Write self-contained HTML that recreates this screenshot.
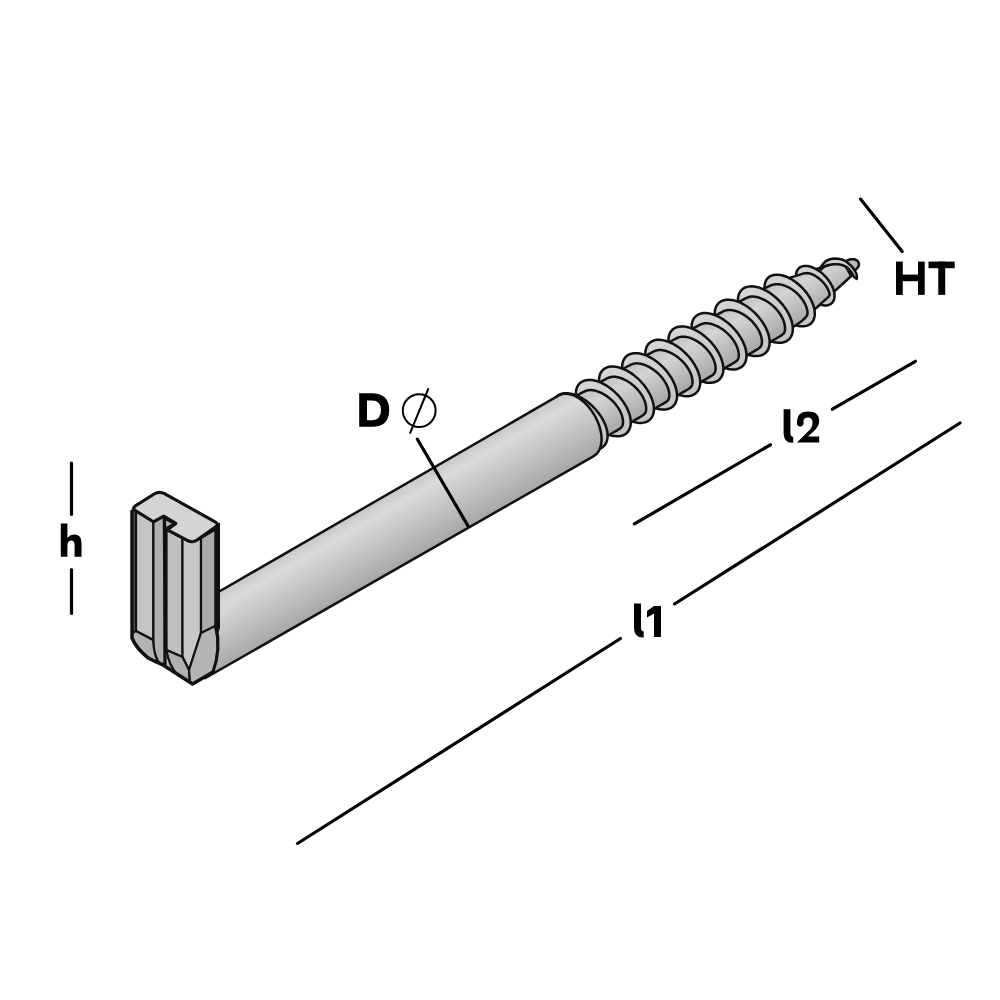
<!DOCTYPE html>
<html><head><meta charset="utf-8"><style>html,body{margin:0;padding:0;background:#fff;width:1000px;height:1000px;overflow:hidden}svg{display:block}</style></head>
<body><svg width="1000" height="1000" viewBox="0 0 1000 1000"><defs>
<linearGradient id="gshaft" x1="0" y1="-34" x2="0" y2="34" gradientUnits="userSpaceOnUse">
<stop offset="0" stop-color="#c8c8c8"/><stop offset="0.2" stop-color="#dadada"/><stop offset="0.5" stop-color="#c8c8c8"/><stop offset="1" stop-color="#a8a8a8"/>
</linearGradient>
<linearGradient id="gflange" x1="0" y1="-34" x2="0" y2="34" gradientUnits="userSpaceOnUse">
<stop offset="0" stop-color="#d6d6d6"/><stop offset="1" stop-color="#c4c4c4"/>
</linearGradient>
<linearGradient id="gcore" x1="0" y1="-26" x2="0" y2="26" gradientUnits="userSpaceOnUse">
<stop offset="0" stop-color="#c0c0c0"/><stop offset="0.3" stop-color="#d4d4d4"/><stop offset="1" stop-color="#a6a6a6"/>
</linearGradient>
</defs><rect width="1000" height="1000" fill="#fff"/><g transform="translate(400,526.4) rotate(-30)"><path d="M 517.83,-6.91 521.18,-6.71 524.18,-5.9 527.21,-4.15 529.01,-1.27 528.96,1.82 527.02,4.17 523.36,5.52 516.41,5.55 511.72,1.68 Z" fill="#bdbdbd" stroke="#111" stroke-width="2.5" stroke-linejoin="round"/><path d="M 472,-18.46 L 516,-8.78 L 516,8.78 L 472,18.46 Z" fill="url(#gcore)" stroke="#111" stroke-width="2.5" stroke-linejoin="round"/><path d="M 493.38,-13.75 497.53,-15.75 501.63,-16.84 505.99,-16.4 509.76,-14.92 513.17,-12.83 516.28,-10.23 518.18,-7.52 519.53,-4.66 520.74,-0.96 521.58,2.99 521.74,6.32 521.55,9.44 520.72,12.08 519.3,14.15 518.67,12.63 517.88,11.01 518.08,7.67 517.9,4.56 517.21,1.16 516.15,-1.99 513.48,-5.38 510.42,-8.07 506.04,-10.49 501.71,-12.18 497.14,-13.08 493.05,-11.98 Z" fill="#d0d0d0" stroke="#111" stroke-width="2.5" stroke-linejoin="round"/><polygon points="493.31,-3.99 493.74,-1.95 494.08,0.11 494.3,2.15 494.42,4.18 494.43,6.17 494.32,8.1 494.11,9.97 493.79,11.75 493.37,13.44 492.84,15.02 492.22,16.48 491.51,17.81 490.7,19 489.82,20.04 488.86,20.91 487.83,21.63 486.74,22.17 485.6,22.54 484.42,22.73 483.21,22.74 481.97,22.57 480.71,22.22 479.45,21.7 478.2,21.01 476.96,20.15 475.74,19.13 474.55,17.96 473.41,16.65 472.31,15.2 471.28,13.63 470.31,11.96 469.41,10.18 468.6,8.33 467.87,6.4 467.23,4.42 466.69,2.39 466.26,0.35 465.92,-1.71 465.7,-3.75 465.58,-5.78 465.57,-7.77 465.68,-9.7 465.89,-11.57 466.21,-13.35 466.63,-15.04 467.16,-16.62 467.78,-18.08 468.49,-19.41 469.3,-20.6 470.18,-21.64 471.14,-22.51 472.17,-23.23 473.26,-23.77 474.4,-24.14 475.58,-24.33 476.79,-24.34 478.03,-24.17 479.29,-23.82 480.55,-23.3 481.8,-22.61 483.04,-21.75 484.26,-20.73 485.45,-19.56 486.59,-18.25 487.69,-16.8 488.72,-15.23 489.69,-13.56 490.59,-11.78 491.4,-9.93 492.13,-8 492.77,-6.02 493.31,-3.99" fill="url(#gflange)" stroke="#111" stroke-width="2.5" stroke-linejoin="round"/><path d="M 445,-24.4 L 470.78,-18.39 471.53,-18.25 472.28,-18.1 473.04,-17.94 473.8,-17.76 474.56,-17.57 475.33,-17.36 476.09,-17.13 476.85,-16.88 477.6,-16.59 478.34,-16.26 479.08,-15.87 479.8,-15.41 480.51,-14.88 481.2,-14.26 481.87,-13.57 482.52,-12.81 483.15,-12 483.76,-11.13 484.34,-10.22 484.9,-9.28 485.43,-8.3 485.93,-7.3 486.39,-6.27 486.83,-5.22 487.23,-4.15 487.6,-3.07 487.6,-3.07 487.93,-1.98 488.22,-0.88 488.48,0.23 488.7,1.33 488.88,2.44 489.02,3.55 489.12,4.64 489.18,5.73 489.21,6.8 489.19,7.86 489.13,8.9 489.03,9.9 488.89,10.87 488.72,11.78 488.5,12.62 488.25,13.34 487.96,13.93 487.63,14.38 487.27,14.71 486.87,14.95 486.44,15.13 485.97,15.29 485.48,15.43 484.95,15.57 484.4,15.7 483.82,15.84 483.22,15.97 482.59,16.12 481.94,16.26 481.26,16.41 480.57,16.56 479.87,16.72 479.15,16.87 478.42,17.03 L 445,24.4 Z" fill="url(#gcore)" stroke="#111" stroke-width="2.5" stroke-linejoin="round"/><polygon points="467.75,-4.97 468.32,-2.3 468.76,0.38 469.05,3.05 469.21,5.69 469.22,8.29 469.08,10.81 468.81,13.24 468.39,15.57 467.84,17.77 467.15,19.84 466.34,21.74 465.4,23.47 464.36,25.02 463.2,26.37 461.95,27.52 460.61,28.45 459.19,29.16 457.71,29.64 456.17,29.88 454.58,29.9 452.97,29.68 451.33,29.22 449.69,28.54 448.05,27.64 446.43,26.52 444.84,25.19 443.3,23.67 441.8,21.95 440.38,20.07 439.02,18.03 437.76,15.84 436.59,13.52 435.53,11.1 434.58,8.59 433.75,6 433.05,3.37 432.48,0.7 432.04,-1.98 431.75,-4.65 431.59,-7.29 431.58,-9.89 431.72,-12.41 431.99,-14.84 432.41,-17.17 432.96,-19.37 433.65,-21.44 434.46,-23.34 435.4,-25.07 436.44,-26.62 437.6,-27.97 438.85,-29.12 440.19,-30.05 441.61,-30.76 443.09,-31.24 444.63,-31.48 446.22,-31.5 447.83,-31.28 449.47,-30.82 451.11,-30.14 452.75,-29.24 454.37,-28.12 455.96,-26.79 457.5,-25.27 459,-23.55 460.42,-21.67 461.78,-19.63 463.04,-17.44 464.21,-15.12 465.27,-12.7 466.22,-10.19 467.05,-7.6 467.75,-4.97" fill="url(#gflange)" stroke="#111" stroke-width="2.5" stroke-linejoin="round"/><path d="M 416.94,-25.5 L 440.54,-23.41 441.4,-23.33 442.28,-23.2 443.17,-23.01 444.06,-22.77 444.96,-22.48 445.85,-22.13 446.74,-21.73 447.63,-21.26 448.51,-20.73 449.38,-20.13 450.24,-19.47 451.08,-18.74 451.91,-17.95 452.72,-17.11 453.5,-16.21 454.27,-15.26 455.01,-14.27 455.72,-13.23 456.4,-12.16 457.05,-11.04 457.67,-9.9 458.25,-8.72 458.8,-7.52 459.3,-6.29 459.77,-5.04 460.2,-3.78 460.2,-3.78 460.59,-2.5 460.93,-1.22 461.23,0.08 461.49,1.37 461.7,2.67 461.87,3.96 461.99,5.24 462.06,6.52 462.08,7.77 462.06,9.01 462,10.23 461.88,11.42 461.72,12.58 461.51,13.72 461.26,14.81 460.97,15.86 460.63,16.86 460.24,17.79 459.82,18.64 459.35,19.4 458.85,20.03 458.3,20.55 457.73,20.96 457.11,21.29 456.46,21.56 455.79,21.79 455.08,22 454.34,22.19 453.58,22.38 452.8,22.56 451.99,22.75 451.16,22.92 450.32,23.1 449.46,23.27 L 416.94,25.5 Z" fill="url(#gcore)" stroke="#111" stroke-width="2.5" stroke-linejoin="round"/><polygon points="441.3,-5.35 441.92,-2.44 442.4,0.49 442.72,3.41 442.89,6.3 442.9,9.13 442.75,11.89 442.45,14.55 442,17.09 441.39,19.5 440.64,21.75 439.76,23.83 438.73,25.72 437.59,27.42 436.33,28.89 434.96,30.14 433.5,31.16 431.95,31.93 430.32,32.46 428.64,32.73 426.91,32.74 425.14,32.5 423.36,32.01 421.56,31.26 419.77,30.28 418,29.05 416.27,27.6 414.58,25.93 412.95,24.06 411.39,22 409.91,19.77 408.53,17.38 407.25,14.85 406.09,12.2 405.05,9.46 404.15,6.63 403.38,3.75 402.76,0.84 402.28,-2.09 401.96,-5.01 401.79,-7.9 401.78,-10.73 401.93,-13.49 402.23,-16.15 402.68,-18.69 403.29,-21.1 404.04,-23.35 404.92,-25.43 405.95,-27.32 407.09,-29.02 408.35,-30.49 409.72,-31.74 411.18,-32.76 412.73,-33.53 414.36,-34.06 416.04,-34.33 417.77,-34.34 419.54,-34.1 421.32,-33.61 423.12,-32.86 424.91,-31.88 426.68,-30.65 428.41,-29.2 430.1,-27.53 431.73,-25.66 433.29,-23.6 434.77,-21.37 436.15,-18.98 437.43,-16.45 438.59,-13.8 439.63,-11.06 440.53,-8.23 441.3,-5.35" fill="url(#gflange)" stroke="#111" stroke-width="2.5" stroke-linejoin="round"/><path d="M 390.21,-25.5 L 412.12,-24.74 413.06,-24.72 414.01,-24.66 414.96,-24.55 415.93,-24.4 416.89,-24.18 417.86,-23.89 418.82,-23.52 419.78,-23.05 420.73,-22.5 421.67,-21.86 422.6,-21.14 423.51,-20.35 424.4,-19.5 425.28,-18.58 426.13,-17.61 426.95,-16.58 427.75,-15.51 428.52,-14.39 429.26,-13.22 429.96,-12.02 430.62,-10.78 431.25,-9.51 431.84,-8.21 432.39,-6.89 432.9,-5.54 433.36,-4.17 433.36,-4.17 433.78,-2.79 434.15,-1.4 434.48,-0 434.76,1.4 434.98,2.8 435.16,4.19 435.29,5.58 435.37,6.95 435.4,8.31 435.37,9.65 435.3,10.96 435.18,12.25 435,13.51 434.78,14.73 434.51,15.92 434.19,17.06 433.82,18.16 433.41,19.22 432.95,20.21 432.45,21.15 431.9,22.01 431.31,22.79 430.69,23.46 430.03,24.01 429.33,24.44 428.59,24.75 427.83,24.96 427.03,25.11 426.21,25.2 425.36,25.26 424.49,25.3 423.6,25.33 422.69,25.34 421.76,25.34 L 390.21,25.5 Z" fill="url(#gcore)" stroke="#111" stroke-width="2.5" stroke-linejoin="round"/><polygon points="414.57,-5.35 415.19,-2.44 415.67,0.49 415.99,3.41 416.16,6.3 416.17,9.13 416.02,11.89 415.72,14.55 415.27,17.09 414.66,19.5 413.91,21.75 413.03,23.83 412,25.72 410.86,27.42 409.6,28.89 408.23,30.14 406.77,31.16 405.22,31.93 403.59,32.46 401.91,32.73 400.18,32.74 398.41,32.5 396.63,32.01 394.83,31.26 393.04,30.28 391.27,29.05 389.54,27.6 387.85,25.93 386.22,24.06 384.66,22 383.18,19.77 381.8,17.38 380.52,14.85 379.36,12.2 378.32,9.46 377.42,6.63 376.65,3.75 376.03,0.84 375.55,-2.09 375.23,-5.01 375.06,-7.9 375.05,-10.73 375.2,-13.49 375.5,-16.15 375.95,-18.69 376.56,-21.1 377.31,-23.35 378.19,-25.43 379.22,-27.32 380.36,-29.02 381.62,-30.49 382.99,-31.74 384.45,-32.76 386,-33.53 387.63,-34.06 389.31,-34.33 391.04,-34.34 392.81,-34.1 394.59,-33.61 396.39,-32.86 398.18,-31.88 399.95,-30.65 401.68,-29.2 403.37,-27.53 405,-25.66 406.56,-23.6 408.04,-21.37 409.42,-18.98 410.7,-16.45 411.86,-13.8 412.9,-11.06 413.8,-8.23 414.57,-5.35" fill="url(#gflange)" stroke="#111" stroke-width="2.5" stroke-linejoin="round"/><path d="M 363.48,-25.5 L 385.39,-24.74 386.33,-24.72 387.28,-24.66 388.23,-24.55 389.2,-24.4 390.16,-24.18 391.13,-23.89 392.09,-23.52 393.05,-23.05 394,-22.5 394.94,-21.86 395.87,-21.14 396.78,-20.35 397.67,-19.5 398.55,-18.58 399.4,-17.61 400.22,-16.58 401.02,-15.51 401.79,-14.39 402.53,-13.22 403.23,-12.02 403.89,-10.78 404.52,-9.51 405.11,-8.21 405.66,-6.89 406.17,-5.54 406.63,-4.17 406.63,-4.17 407.05,-2.79 407.42,-1.4 407.75,-0 408.03,1.4 408.25,2.8 408.43,4.19 408.56,5.58 408.64,6.95 408.67,8.31 408.64,9.65 408.57,10.96 408.45,12.25 408.27,13.51 408.05,14.73 407.78,15.92 407.46,17.06 407.09,18.16 406.68,19.22 406.22,20.21 405.72,21.15 405.17,22.01 404.58,22.79 403.96,23.46 403.3,24.01 402.6,24.44 401.86,24.75 401.1,24.96 400.3,25.11 399.48,25.2 398.63,25.26 397.76,25.3 396.87,25.33 395.96,25.34 395.03,25.34 L 363.48,25.5 Z" fill="url(#gcore)" stroke="#111" stroke-width="2.5" stroke-linejoin="round"/><polygon points="387.84,-5.35 388.46,-2.44 388.94,0.49 389.26,3.41 389.43,6.3 389.44,9.13 389.29,11.89 388.99,14.55 388.54,17.09 387.93,19.5 387.18,21.75 386.3,23.83 385.27,25.72 384.13,27.42 382.87,28.89 381.5,30.14 380.04,31.16 378.49,31.93 376.86,32.46 375.18,32.73 373.45,32.74 371.68,32.5 369.9,32.01 368.1,31.26 366.31,30.28 364.54,29.05 362.81,27.6 361.12,25.93 359.49,24.06 357.93,22 356.45,19.77 355.07,17.38 353.79,14.85 352.63,12.2 351.59,9.46 350.69,6.63 349.92,3.75 349.3,0.84 348.82,-2.09 348.5,-5.01 348.33,-7.9 348.32,-10.73 348.47,-13.49 348.77,-16.15 349.22,-18.69 349.83,-21.1 350.58,-23.35 351.46,-25.43 352.49,-27.32 353.63,-29.02 354.89,-30.49 356.26,-31.74 357.72,-32.76 359.27,-33.53 360.9,-34.06 362.58,-34.33 364.31,-34.34 366.08,-34.1 367.86,-33.61 369.66,-32.86 371.45,-31.88 373.22,-30.65 374.95,-29.2 376.64,-27.53 378.27,-25.66 379.83,-23.6 381.31,-21.37 382.69,-18.98 383.97,-16.45 385.13,-13.8 386.17,-11.06 387.07,-8.23 387.84,-5.35" fill="url(#gflange)" stroke="#111" stroke-width="2.5" stroke-linejoin="round"/><path d="M 336.75,-25.5 L 358.66,-24.74 359.6,-24.72 360.55,-24.66 361.5,-24.55 362.47,-24.4 363.43,-24.18 364.4,-23.89 365.36,-23.52 366.32,-23.05 367.27,-22.5 368.21,-21.86 369.14,-21.14 370.05,-20.35 370.94,-19.5 371.82,-18.58 372.67,-17.61 373.49,-16.58 374.29,-15.51 375.06,-14.39 375.8,-13.22 376.5,-12.02 377.16,-10.78 377.79,-9.51 378.38,-8.21 378.93,-6.89 379.44,-5.54 379.9,-4.17 379.9,-4.17 380.32,-2.79 380.69,-1.4 381.02,-0 381.3,1.4 381.52,2.8 381.7,4.19 381.83,5.58 381.91,6.95 381.94,8.31 381.91,9.65 381.84,10.96 381.72,12.25 381.54,13.51 381.32,14.73 381.05,15.92 380.73,17.06 380.36,18.16 379.95,19.22 379.49,20.21 378.99,21.15 378.44,22.01 377.85,22.79 377.23,23.46 376.57,24.01 375.87,24.44 375.13,24.75 374.37,24.96 373.57,25.11 372.75,25.2 371.9,25.26 371.03,25.3 370.14,25.33 369.23,25.34 368.3,25.34 L 336.75,25.5 Z" fill="url(#gcore)" stroke="#111" stroke-width="2.5" stroke-linejoin="round"/><polygon points="361.11,-5.35 361.73,-2.44 362.21,0.49 362.53,3.41 362.7,6.3 362.71,9.13 362.56,11.89 362.26,14.55 361.81,17.09 361.2,19.5 360.45,21.75 359.57,23.83 358.54,25.72 357.4,27.42 356.14,28.89 354.77,30.14 353.31,31.16 351.76,31.93 350.13,32.46 348.45,32.73 346.72,32.74 344.95,32.5 343.17,32.01 341.37,31.26 339.58,30.28 337.81,29.05 336.08,27.6 334.39,25.93 332.76,24.06 331.2,22 329.72,19.77 328.34,17.38 327.06,14.85 325.9,12.2 324.86,9.46 323.96,6.63 323.19,3.75 322.57,0.84 322.09,-2.09 321.77,-5.01 321.6,-7.9 321.59,-10.73 321.74,-13.49 322.04,-16.15 322.49,-18.69 323.1,-21.1 323.85,-23.35 324.73,-25.43 325.76,-27.32 326.9,-29.02 328.16,-30.49 329.53,-31.74 330.99,-32.76 332.54,-33.53 334.17,-34.06 335.85,-34.33 337.58,-34.34 339.35,-34.1 341.13,-33.61 342.93,-32.86 344.72,-31.88 346.49,-30.65 348.22,-29.2 349.91,-27.53 351.54,-25.66 353.1,-23.6 354.58,-21.37 355.96,-18.98 357.24,-16.45 358.4,-13.8 359.44,-11.06 360.34,-8.23 361.11,-5.35" fill="url(#gflange)" stroke="#111" stroke-width="2.5" stroke-linejoin="round"/><path d="M 310.02,-25.5 L 331.93,-24.74 332.87,-24.72 333.82,-24.66 334.77,-24.55 335.74,-24.4 336.7,-24.18 337.67,-23.89 338.63,-23.52 339.59,-23.05 340.54,-22.5 341.48,-21.86 342.41,-21.14 343.32,-20.35 344.21,-19.5 345.09,-18.58 345.94,-17.61 346.76,-16.58 347.56,-15.51 348.33,-14.39 349.07,-13.22 349.77,-12.02 350.43,-10.78 351.06,-9.51 351.65,-8.21 352.2,-6.89 352.71,-5.54 353.17,-4.17 353.17,-4.17 353.59,-2.79 353.96,-1.4 354.29,-0 354.57,1.4 354.79,2.8 354.97,4.19 355.1,5.58 355.18,6.95 355.21,8.31 355.18,9.65 355.11,10.96 354.99,12.25 354.81,13.51 354.59,14.73 354.32,15.92 354,17.06 353.63,18.16 353.22,19.22 352.76,20.21 352.26,21.15 351.71,22.01 351.12,22.79 350.5,23.46 349.84,24.01 349.14,24.44 348.4,24.75 347.64,24.96 346.84,25.11 346.02,25.2 345.17,25.26 344.3,25.3 343.41,25.33 342.5,25.34 341.57,25.34 L 310.02,25.5 Z" fill="url(#gcore)" stroke="#111" stroke-width="2.5" stroke-linejoin="round"/><polygon points="334.38,-5.35 335,-2.44 335.48,0.49 335.8,3.41 335.97,6.3 335.98,9.13 335.83,11.89 335.53,14.55 335.08,17.09 334.47,19.5 333.72,21.75 332.84,23.83 331.81,25.72 330.67,27.42 329.41,28.89 328.04,30.14 326.58,31.16 325.03,31.93 323.4,32.46 321.72,32.73 319.99,32.74 318.22,32.5 316.44,32.01 314.64,31.26 312.85,30.28 311.08,29.05 309.35,27.6 307.66,25.93 306.03,24.06 304.47,22 302.99,19.77 301.61,17.38 300.33,14.85 299.17,12.2 298.13,9.46 297.23,6.63 296.46,3.75 295.84,0.84 295.36,-2.09 295.04,-5.01 294.87,-7.9 294.86,-10.73 295.01,-13.49 295.31,-16.15 295.76,-18.69 296.37,-21.1 297.12,-23.35 298,-25.43 299.03,-27.32 300.17,-29.02 301.43,-30.49 302.8,-31.74 304.26,-32.76 305.81,-33.53 307.44,-34.06 309.12,-34.33 310.85,-34.34 312.62,-34.1 314.4,-33.61 316.2,-32.86 317.99,-31.88 319.76,-30.65 321.49,-29.2 323.18,-27.53 324.81,-25.66 326.37,-23.6 327.85,-21.37 329.23,-18.98 330.51,-16.45 331.67,-13.8 332.71,-11.06 333.61,-8.23 334.38,-5.35" fill="url(#gflange)" stroke="#111" stroke-width="2.5" stroke-linejoin="round"/><path d="M 283.29,-25.5 L 305.2,-24.74 306.14,-24.72 307.09,-24.66 308.04,-24.55 309.01,-24.4 309.97,-24.18 310.94,-23.89 311.9,-23.52 312.86,-23.05 313.81,-22.5 314.75,-21.86 315.68,-21.14 316.59,-20.35 317.48,-19.5 318.36,-18.58 319.21,-17.61 320.03,-16.58 320.83,-15.51 321.6,-14.39 322.34,-13.22 323.04,-12.02 323.7,-10.78 324.33,-9.51 324.92,-8.21 325.47,-6.89 325.98,-5.54 326.44,-4.17 326.44,-4.17 326.86,-2.79 327.23,-1.4 327.56,-0 327.84,1.4 328.06,2.8 328.24,4.19 328.37,5.58 328.45,6.95 328.48,8.31 328.45,9.65 328.38,10.96 328.26,12.25 328.08,13.51 327.86,14.73 327.59,15.92 327.27,17.06 326.9,18.16 326.49,19.22 326.03,20.21 325.53,21.15 324.98,22.01 324.39,22.79 323.77,23.46 323.11,24.01 322.41,24.44 321.67,24.75 320.91,24.96 320.11,25.11 319.29,25.2 318.44,25.26 317.57,25.3 316.68,25.33 315.77,25.34 314.84,25.34 L 283.29,25.5 Z" fill="url(#gcore)" stroke="#111" stroke-width="2.5" stroke-linejoin="round"/><polygon points="307.65,-5.35 308.27,-2.44 308.75,0.49 309.07,3.41 309.24,6.3 309.25,9.13 309.1,11.89 308.8,14.55 308.35,17.09 307.74,19.5 306.99,21.75 306.11,23.83 305.08,25.72 303.94,27.42 302.68,28.89 301.31,30.14 299.85,31.16 298.3,31.93 296.67,32.46 294.99,32.73 293.26,32.74 291.49,32.5 289.71,32.01 287.91,31.26 286.12,30.28 284.35,29.05 282.62,27.6 280.93,25.93 279.3,24.06 277.74,22 276.26,19.77 274.88,17.38 273.6,14.85 272.44,12.2 271.4,9.46 270.5,6.63 269.73,3.75 269.11,0.84 268.63,-2.09 268.31,-5.01 268.14,-7.9 268.13,-10.73 268.28,-13.49 268.58,-16.15 269.03,-18.69 269.64,-21.1 270.39,-23.35 271.27,-25.43 272.3,-27.32 273.44,-29.02 274.7,-30.49 276.07,-31.74 277.53,-32.76 279.08,-33.53 280.71,-34.06 282.39,-34.33 284.12,-34.34 285.89,-34.1 287.67,-33.61 289.47,-32.86 291.26,-31.88 293.03,-30.65 294.76,-29.2 296.45,-27.53 298.08,-25.66 299.64,-23.6 301.12,-21.37 302.5,-18.98 303.78,-16.45 304.94,-13.8 305.98,-11.06 306.88,-8.23 307.65,-5.35" fill="url(#gflange)" stroke="#111" stroke-width="2.5" stroke-linejoin="round"/><path d="M 256.56,-25.5 L 278.47,-24.74 279.41,-24.72 280.36,-24.66 281.31,-24.55 282.28,-24.4 283.24,-24.18 284.21,-23.89 285.17,-23.52 286.13,-23.05 287.08,-22.5 288.02,-21.86 288.95,-21.14 289.86,-20.35 290.75,-19.5 291.63,-18.58 292.48,-17.61 293.3,-16.58 294.1,-15.51 294.87,-14.39 295.61,-13.22 296.31,-12.02 296.97,-10.78 297.6,-9.51 298.19,-8.21 298.74,-6.89 299.25,-5.54 299.71,-4.17 299.71,-4.17 300.13,-2.79 300.5,-1.4 300.83,-0 301.11,1.4 301.33,2.8 301.51,4.19 301.64,5.58 301.72,6.95 301.75,8.31 301.72,9.65 301.65,10.96 301.53,12.25 301.35,13.51 301.13,14.73 300.86,15.92 300.54,17.06 300.17,18.16 299.76,19.22 299.3,20.21 298.8,21.15 298.25,22.01 297.66,22.79 297.04,23.46 296.38,24.01 295.68,24.44 294.94,24.75 294.18,24.96 293.38,25.11 292.56,25.2 291.71,25.26 290.84,25.3 289.95,25.33 289.04,25.34 288.11,25.34 L 256.56,25.5 Z" fill="url(#gcore)" stroke="#111" stroke-width="2.5" stroke-linejoin="round"/><polygon points="280.92,-5.35 281.54,-2.44 282.02,0.49 282.34,3.41 282.51,6.3 282.52,9.13 282.37,11.89 282.07,14.55 281.62,17.09 281.01,19.5 280.26,21.75 279.38,23.83 278.35,25.72 277.21,27.42 275.95,28.89 274.58,30.14 273.12,31.16 271.57,31.93 269.94,32.46 268.26,32.73 266.53,32.74 264.76,32.5 262.98,32.01 261.18,31.26 259.39,30.28 257.62,29.05 255.89,27.6 254.2,25.93 252.57,24.06 251.01,22 249.53,19.77 248.15,17.38 246.87,14.85 245.71,12.2 244.67,9.46 243.77,6.63 243,3.75 242.38,0.84 241.9,-2.09 241.58,-5.01 241.41,-7.9 241.4,-10.73 241.55,-13.49 241.85,-16.15 242.3,-18.69 242.91,-21.1 243.66,-23.35 244.54,-25.43 245.57,-27.32 246.71,-29.02 247.97,-30.49 249.34,-31.74 250.8,-32.76 252.35,-33.53 253.98,-34.06 255.66,-34.33 257.39,-34.34 259.16,-34.1 260.94,-33.61 262.74,-32.86 264.53,-31.88 266.3,-30.65 268.03,-29.2 269.72,-27.53 271.35,-25.66 272.91,-23.6 274.39,-21.37 275.77,-18.98 277.05,-16.45 278.21,-13.8 279.25,-11.06 280.15,-8.23 280.92,-5.35" fill="url(#gflange)" stroke="#111" stroke-width="2.5" stroke-linejoin="round"/><path d="M 229.83,-25.5 L 251.74,-24.74 252.68,-24.72 253.63,-24.66 254.58,-24.55 255.55,-24.4 256.51,-24.18 257.48,-23.89 258.44,-23.52 259.4,-23.05 260.35,-22.5 261.29,-21.86 262.22,-21.14 263.13,-20.35 264.02,-19.5 264.9,-18.58 265.75,-17.61 266.57,-16.58 267.37,-15.51 268.14,-14.39 268.88,-13.22 269.58,-12.02 270.24,-10.78 270.87,-9.51 271.46,-8.21 272.01,-6.89 272.52,-5.54 272.98,-4.17 272.98,-4.17 273.4,-2.79 273.77,-1.4 274.1,-0 274.38,1.4 274.6,2.8 274.78,4.19 274.91,5.58 274.99,6.95 275.02,8.31 274.99,9.65 274.92,10.96 274.8,12.25 274.62,13.51 274.4,14.73 274.13,15.92 273.81,17.06 273.44,18.16 273.03,19.22 272.57,20.21 272.07,21.15 271.52,22.01 270.93,22.79 270.31,23.46 269.65,24.01 268.95,24.44 268.21,24.75 267.45,24.96 266.65,25.11 265.83,25.2 264.98,25.26 264.11,25.3 263.22,25.33 262.31,25.34 261.38,25.34 L 229.83,25.5 Z" fill="url(#gcore)" stroke="#111" stroke-width="2.5" stroke-linejoin="round"/><polygon points="254.19,-5.35 254.81,-2.44 255.29,0.49 255.61,3.41 255.78,6.3 255.79,9.13 255.64,11.89 255.34,14.55 254.89,17.09 254.28,19.5 253.53,21.75 252.65,23.83 251.62,25.72 250.48,27.42 249.22,28.89 247.85,30.14 246.39,31.16 244.84,31.93 243.21,32.46 241.53,32.73 239.8,32.74 238.03,32.5 236.25,32.01 234.45,31.26 232.66,30.28 230.89,29.05 229.16,27.6 227.47,25.93 225.84,24.06 224.28,22 222.8,19.77 221.42,17.38 220.14,14.85 218.98,12.2 217.94,9.46 217.04,6.63 216.27,3.75 215.65,0.84 215.17,-2.09 214.85,-5.01 214.68,-7.9 214.67,-10.73 214.82,-13.49 215.12,-16.15 215.57,-18.69 216.18,-21.1 216.93,-23.35 217.81,-25.43 218.84,-27.32 219.98,-29.02 221.24,-30.49 222.61,-31.74 224.07,-32.76 225.62,-33.53 227.25,-34.06 228.93,-34.33 230.66,-34.34 232.43,-34.1 234.21,-33.61 236.01,-32.86 237.8,-31.88 239.57,-30.65 241.3,-29.2 242.99,-27.53 244.62,-25.66 246.18,-23.6 247.66,-21.37 249.04,-18.98 250.32,-16.45 251.48,-13.8 252.52,-11.06 253.42,-8.23 254.19,-5.35" fill="url(#gflange)" stroke="#111" stroke-width="2.5" stroke-linejoin="round"/><path d="M 203.1,-25.5 L 225.01,-24.74 225.95,-24.72 226.9,-24.66 227.85,-24.55 228.82,-24.4 229.78,-24.18 230.75,-23.89 231.71,-23.52 232.67,-23.05 233.62,-22.5 234.56,-21.86 235.49,-21.14 236.4,-20.35 237.29,-19.5 238.17,-18.58 239.02,-17.61 239.84,-16.58 240.64,-15.51 241.41,-14.39 242.15,-13.22 242.85,-12.02 243.51,-10.78 244.14,-9.51 244.73,-8.21 245.28,-6.89 245.79,-5.54 246.25,-4.17 246.25,-4.17 246.67,-2.79 247.04,-1.4 247.37,-0 247.65,1.4 247.87,2.8 248.05,4.19 248.18,5.58 248.26,6.95 248.29,8.31 248.26,9.65 248.19,10.96 248.07,12.25 247.89,13.51 247.67,14.73 247.4,15.92 247.08,17.06 246.71,18.16 246.3,19.22 245.84,20.21 245.34,21.15 244.79,22.01 244.2,22.79 243.58,23.46 242.92,24.01 242.22,24.44 241.48,24.75 240.72,24.96 239.92,25.11 239.1,25.2 238.25,25.26 237.38,25.3 236.49,25.33 235.58,25.34 234.65,25.34 L 203.1,25.5 Z" fill="url(#gcore)" stroke="#111" stroke-width="2.5" stroke-linejoin="round"/><polygon points="227.46,-5.35 228.08,-2.44 228.56,0.49 228.88,3.41 229.05,6.3 229.06,9.13 228.91,11.89 228.61,14.55 228.16,17.09 227.55,19.5 226.8,21.75 225.92,23.83 224.89,25.72 223.75,27.42 222.49,28.89 221.12,30.14 219.66,31.16 218.11,31.93 216.48,32.46 214.8,32.73 213.07,32.74 211.3,32.5 209.52,32.01 207.72,31.26 205.93,30.28 204.16,29.05 202.43,27.6 200.74,25.93 199.11,24.06 197.55,22 196.07,19.77 194.69,17.38 193.41,14.85 192.25,12.2 191.21,9.46 190.31,6.63 189.54,3.75 188.92,0.84 188.44,-2.09 188.12,-5.01 187.95,-7.9 187.94,-10.73 188.09,-13.49 188.39,-16.15 188.84,-18.69 189.45,-21.1 190.2,-23.35 191.08,-25.43 192.11,-27.32 193.25,-29.02 194.51,-30.49 195.88,-31.74 197.34,-32.76 198.89,-33.53 200.52,-34.06 202.2,-34.33 203.93,-34.34 205.7,-34.1 207.48,-33.61 209.28,-32.86 211.07,-31.88 212.84,-30.65 214.57,-29.2 216.26,-27.53 217.89,-25.66 219.45,-23.6 220.93,-21.37 222.31,-18.98 223.59,-16.45 224.75,-13.8 225.79,-11.06 226.69,-8.23 227.46,-5.35" fill="url(#gflange)" stroke="#111" stroke-width="2.5" stroke-linejoin="round"/><path d="M -205.54,-34 L 203,-34 204.65,-33.89 206.29,-33.57 207.9,-33.03 209.49,-32.29 211.04,-31.34 212.53,-30.19 213.97,-28.84 215.34,-27.32 216.64,-25.61 217.85,-23.75 218.97,-21.73 219.99,-19.57 220.91,-17.29 221.71,-14.89 222.4,-12.39 222.97,-9.82 223.42,-7.17 223.74,-4.48 223.94,-1.75 224,1 223.94,3.75 223.74,6.48 223.42,9.17 222.97,11.82 222.4,14.39 221.71,16.89 220.91,19.29 219.99,21.57 218.97,23.73 217.85,25.75 216.64,27.61 215.34,29.32 213.97,30.84 212.53,32.19 211.04,33.34 209.49,34.29 207.9,35.03 206.29,35.57 204.65,35.89 203,36 L -244.8,34 Z" fill="url(#gshaft)" stroke="#111" stroke-width="2.5" stroke-linejoin="round"/></g><polygon points="131,508 159,491 219,524 219,626 218,656 213,672 192.6,684 163,665 148,658 137,647 131,638" fill="#bcbcbc"/><polygon points="132,509 137,511 137,631 132,633" fill="#5a5a5a"/><polygon points="136,511 153.4,521.8 153.4,640 136,631" fill="#c4c4c4" stroke="#111" stroke-width="2.2"/><polygon points="153.4,521.8 163.8,516.2 165,665 158,662 153.4,650" fill="#b0b0b0" stroke="#111" stroke-width="2.2"/><polygon points="166.5,529.8 182.5,538 182.5,657 166.5,650" fill="#bfbfbf" stroke="#111" stroke-width="2.2"/><polygon points="182.5,537 192.5,542 201,538 201,633 189,670 182.5,657" fill="#c8c8c8" stroke="#111" stroke-width="2.2"/><polygon points="201,538 216,529 216,627 201,633" fill="#aaaaaa" stroke="#111" stroke-width="2.2"/><path d="M 132,633 L 136,631 L 153,640 Q 154,654 158,662 L 163,665 Q 150,660 142,652 Q 135,645 132,638 Z" fill="#b2b2b2" stroke="#111" stroke-width="2.2" stroke-linejoin="round"/><path d="M 166.5,650 L 182.5,657 L 189,670 L 190,682 L 177,674 Q 169,666 166.5,650 Z" fill="#b0b0b0" stroke="#111" stroke-width="2.2" stroke-linejoin="round"/><path d="M 201,633 L 215,626 Q 221,648 213,672 L 192.6,684 L 190,682 L 189,670 Z" fill="#b4b4b4" stroke="#111" stroke-width="2.2" stroke-linejoin="round"/><path d="M 216,626 Q 221.5,648 213,672" fill="none" stroke="#111" stroke-width="2.9"/><path d="M 132,510 L 132,638 Q 136,648 148,658 Q 156,662 163,665 L 192.6,684 L 213,672" fill="none" stroke="#111" stroke-width="3.4" stroke-linejoin="round"/><polygon points="214.3,523 220,523 220,628 218.2,633 214.3,626" fill="#111"/><line x1="165" y1="522" x2="165" y2="665" stroke="#111" stroke-width="3.2"/><path d="M 135.76,510.92 Q 131.5,508.3 135.73,505.64 L 154.22,494 Q 159.3,490.8 164.55,493.71 L 215.13,521.77 Q 219.5,524.2 215.42,527.09 L 197.4,539.83 Q 192.5,543.3 187.23,540.43 L 176,534.3 Q 176,534.3 176,534.3 L 167.4,529.8 Q 167.4,529.8 167.4,529.8 L 175.8,523.4 Q 175.8,523.4 175.8,523.4 L 163.8,516.2 Q 163.8,516.2 163.8,516.2 L 153.4,521.8 Q 153.4,521.8 153.4,521.8 Z" fill="#d4d4d4" stroke="#111" stroke-width="3.1" stroke-linejoin="round"/><polygon points="165,519 173.8,523.6 165.5,528.5" fill="#b4b4b4" stroke="#111" stroke-width="1.8" stroke-linejoin="round"/><line x1="297.5" y1="843.5" x2="620.5" y2="638.5" stroke="#000" stroke-width="3.2" stroke-linecap="round"/><line x1="674.5" y1="604" x2="960" y2="423" stroke="#000" stroke-width="3.2" stroke-linecap="round"/><line x1="634.4" y1="523.9" x2="770.4" y2="444.8" stroke="#000" stroke-width="3.2" stroke-linecap="round"/><line x1="832.4" y1="409.2" x2="915.4" y2="361.3" stroke="#000" stroke-width="3.2" stroke-linecap="round"/><line x1="71.5" y1="463" x2="71.5" y2="514.5" stroke="#000" stroke-width="3.2" stroke-linecap="round"/><line x1="71.5" y1="569.5" x2="71.5" y2="613.5" stroke="#000" stroke-width="3.2" stroke-linecap="round"/><line x1="860.5" y1="199.1" x2="902.2" y2="251.6" stroke="#000" stroke-width="3.2" stroke-linecap="round"/><line x1="417.4" y1="439.2" x2="467.8" y2="525.6" stroke="#000" stroke-width="3.2" stroke-linecap="round"/><circle cx="419.2" cy="410.6" r="16.4" fill="none" stroke="#000" stroke-width="2"/><line x1="428.2" y1="389" x2="410.2" y2="432.8" stroke="#000" stroke-width="2" stroke-linecap="round"/><g fill="#000"><rect x="896" y="261.6" width="6.8" height="33.3"/><rect x="918" y="261.6" width="6.7" height="33.3"/><rect x="900" y="274.6" width="20" height="6.6"/><rect x="928.5" y="261.6" width="26.2" height="6.6"/><rect x="938.3" y="261.6" width="6.9" height="33.3"/><path d="M 60.8,523.5 H 67.4 V 538 Q 70,534.6 75,534.6 Q 81.5,535 81.5,543 V 556.8 H 74.6 V 545 Q 74.6,540.6 71,540.6 Q 67.4,540.8 67.4,546 V 556.8 H 60.8 Z"/><path fill-rule="evenodd" d="M 359.2,393.2 H 372 Q 389.2,393.5 389.2,410 Q 389.2,426.8 372,426.8 H 359.2 Z M 367,400.4 V 420.2 H 372 Q 381,420 381,410 Q 381,400.4 372,400.4 Z"/><path d="M 634,603.5 H 641 V 628 Q 641,631 643.7,631.5 V 637.5 Q 634,638 634,628 Z"/><path d="M 654,606 H 661 V 637 H 654 V 613.5 L 647,617.5 V 611 Z"/><path d="M 783.6,409.2 H 790.4 V 433 Q 790.4,436.5 793.2,437 V 442.8 Q 783.6,443.5 783.6,433 Z"/><path d="M 797,424 Q 796.4,411.6 808,411.6 Q 819.2,411.6 819.2,421 Q 819.2,426 814,431 L 808,436.5 H 819.2 V 442.4 H 797 L 809.5,430 Q 812.5,427 812.5,422.5 Q 812.5,417.5 808,417.5 Q 803,417.5 803.5,422 Q 804,425 801,426.5 Q 797.5,427 797,424 Z"/></g></svg></body></html>
